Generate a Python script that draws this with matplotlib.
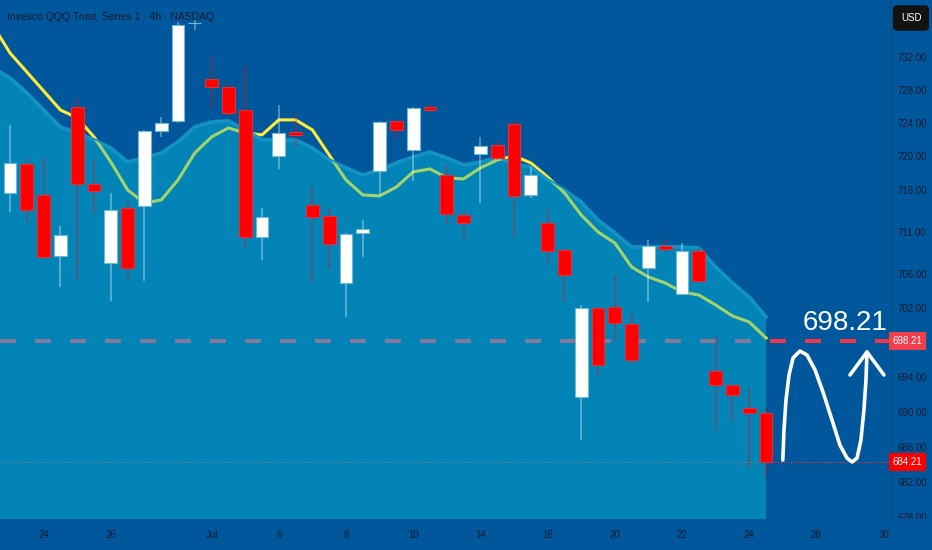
import numpy as np
import matplotlib
matplotlib.use("Agg")
import matplotlib.pyplot as plt
from matplotlib import transforms
from matplotlib.ticker import NullLocator

plt.rcParams["lines.scale_dashes"] = False
plt.rcParams["font.family"] = ["Liberation Sans", "DejaVu Sans"]

# 4h bars, Jun 23 .. Jul 24 (2 bars per session)
opens = [715.61, 719.08, 715.37, 708.13, 725.94, 716.68, 707.31, 713.82, 714.06, 723.04,
         724.25, 736.10, 729.33, 728.36, 725.57, 710.38, 720.03, 722.92, 714.18, 712.87,
         704.96, 710.86, 718.24, 724.25, 720.75, 725.94, 717.76, 712.99, 720.27, 721.35,
         723.89, 715.37, 712.04, 708.84, 691.70, 702.03, 702.14, 700.16, 706.72, 709.31,
         703.67, 708.72, 694.70, 693.08, 690.43, 689.86]
highs = [723.77, 719.91, 719.91, 711.69, 726.90, 719.67, 715.61, 714.65, 723.16, 724.73,
         736.29, 736.53, 732.00, 728.97, 730.91, 713.82, 726.18, 725.21, 716.44, 713.82,
         710.86, 712.40, 724.25, 724.37, 725.94, 726.42, 718.84, 713.58, 722.32, 721.84,
         724.37, 718.72, 713.70, 709.08, 702.38, 702.14, 705.90, 701.44, 710.03, 710.15,
         709.67, 709.08, 698.64, 693.08, 692.74, 690.55]
lows = [713.35, 712.16, 707.78, 704.49, 705.31, 713.11, 702.84, 705.31, 705.19, 722.32,
        724.01, 735.31, 725.70, 724.73, 709.08, 707.66, 718.48, 721.11, 704.96, 706.60,
        700.98, 708.02, 715.37, 722.08, 717.04, 725.33, 711.81, 710.15, 714.41, 719.55,
        710.38, 715.01, 707.19, 702.73, 686.76, 694.24, 698.18, 695.63, 702.73, 708.49,
        703.55, 705.08, 687.79, 688.82, 683.57, 682.47]
closes = [719.20, 713.58, 708.02, 710.62, 716.68, 715.85, 713.58, 706.72, 723.04, 724.01,
          735.92, 736.16, 728.36, 725.21, 710.38, 712.75, 722.80, 722.56, 712.75, 709.55,
          710.74, 711.34, 724.13, 723.16, 725.82, 725.57, 713.11, 712.04, 721.23, 719.79,
          715.25, 717.76, 708.72, 705.90, 702.03, 695.40, 700.28, 695.97, 709.31, 708.96,
          708.72, 705.19, 693.08, 691.93, 689.86, 684.21]

# moving average (yellow) and area band, from bar -1 to bar 45
ema_line = [735.79, 732.49, 730.18, 727.87, 725.57, 724.61, 722.32, 719.31, 715.97, 714.41,
            714.77, 717.16, 720.39, 722.32, 723.40, 722.80, 722.56, 724.37, 724.37, 723.16,
            720.15, 717.16, 715.37, 715.25, 716.32, 718.12, 718.48, 717.40, 717.28, 718.60,
            719.55, 720.03, 719.20, 717.52, 715.61, 712.99, 710.97, 709.67, 706.84, 705.66,
            704.96, 703.90, 703.55, 702.38, 701.10, 700.39, 698.53]
area_line = [730.66, 729.45, 727.63, 725.57, 723.52, 722.80, 721.96, 720.99, 719.31, 719.79,
             720.39, 721.71, 723.52, 724.13, 724.25, 723.16, 721.96, 721.96, 721.96, 720.99,
             719.55, 718.60, 717.76, 718.36, 719.20, 719.91, 720.51, 719.79, 718.96, 719.31,
             719.79, 719.08, 718.72, 717.16, 715.97, 714.53, 712.40, 710.86, 709.20, 709.20,
             709.20, 709.20, 709.08, 706.84, 704.96, 703.31, 700.98]

target_price = 698.21
last_price = 684.21

day_ticks = [2, 6, 12, 16, 20, 24, 28, 32, 36, 40, 44, 48, 52]
day_labels = ["24", "26", "Jul", "6", "8", "10", "14", "16", "20", "22", "24", "28", "30"]
price_ticks = [732, 728, 724, 720, 716, 711, 706, 702, 694, 690, 686, 682, 678]

# hand drawn "N" move, (bar, price)
draw_bar = [46.0, 46.07, 46.19, 46.37, 46.61, 47.02, 47.44, 47.92, 48.39, 48.93, 49.40,
            49.82, 50.12, 50.42, 50.65, 50.83, 50.95, 51.01]
draw_price = [684.47, 687.91, 691.35, 694.24, 696.21, 697.01, 696.55, 694.82, 692.28,
              689.05, 686.18, 684.70, 684.25, 684.70, 686.76, 690.20, 693.66, 696.90]
head_bar = [50.0, 51.01, 52.02]
head_price = [694.24, 696.90, 694.24]

BG = "#01579b"
AREA = "#0284b6"
TXT = "#0c1a2f"

W, H = 932, 550
fig = plt.figure(figsize=(W / 100, H / 100), dpi=100, facecolor=BG)
ax = fig.add_axes([0, 31 / H, 891 / W, 519 / H])
ax.set_facecolor(BG)

xb = np.arange(len(opens))
xl = np.arange(-1, len(opens))
o = np.array(opens)
c = np.array(closes)

ax.set_yscale("log")
ax.set_xlim(-0.595, 52.44)
ax.set_ylim(677.78, 738.98)

# things seen under the area
ax.plot(xl, ema_line, color="#ffeb3b", lw=2.2, zorder=2, solid_joinstyle="round")
ax.axhline(target_price, color="#f23645", lw=2.9, ls=(0, (11.5, 13.7)), zorder=2)
ax.axhline(last_price, color="#ff3030", lw=0.8, ls=(0, (1, 1.4)), zorder=2)

poly = ax.fill_between(xl, area_line, 600, color=AREA, lw=0, zorder=3)
clip = poly.get_paths()[0]
ax.plot(xl, area_line, color="#1293c4", lw=2.6, zorder=3.5, solid_joinstyle="round")

g, = ax.plot(xl, ema_line, color="#a3d46c", lw=2.2, zorder=4, solid_joinstyle="round")
g.set_clip_path(clip, ax.transData)
d1 = ax.axhline(target_price, color="#86789a", lw=2.9, ls=(0, (11.5, 13.7)), zorder=4)
d1.set_clip_path(clip, ax.transData)
d2 = ax.axhline(last_price, color="#86789a", lw=0.8, ls=(0, (1, 1.4)), zorder=4)
d2.set_clip_path(clip, ax.transData)

# candles
up = c >= o
wick_cols = [(1, 1, 1, 0.42) if u else (1, 0, 0, 0.42) for u in up]
ax.vlines(xb, lows, highs, colors=wick_cols, lw=1.1, zorder=5)
ax.bar(xb, np.abs(c - o), bottom=np.minimum(o, c), width=0.77,
       color=["#ffffff" if u else "#ff0000" for u in up],
       edgecolor=["#6fbad2" if u else "#d8333f" for u in up],
       linewidth=0.8, zorder=6)

# drawing
ax.plot(draw_bar, draw_price, color="white", lw=2.6, zorder=8,
        solid_capstyle="round", solid_joinstyle="round")
ax.plot(head_bar, head_price, color="white", lw=2.6, zorder=8,
        solid_capstyle="round", solid_joinstyle="round")
ax.annotate(f"{target_price:.2f}", xy=(49.7, target_price), xytext=(0, 7.5),
            textcoords="offset points", ha="center", va="baseline",
            fontsize=20, color="white", zorder=9)

# axes cosmetics
for s in ["top", "left", "bottom"]:
    ax.spines[s].set_visible(False)
ax.spines["right"].set_color("#0b4c86")
ax.spines["right"].set_linewidth(0.8)

ax.yaxis.tick_right()
ax.set_yticks(price_ticks)
ax.set_yticklabels([f"{p:.2f}" for p in price_ticks])
ax.yaxis.set_minor_locator(NullLocator())
ax.set_xticks(day_ticks)
ax.set_xticklabels(day_labels)
ax.tick_params(axis="y", length=0, pad=5, labelsize=7, labelcolor=TXT)
ax.tick_params(axis="x", length=0, pad=8, labelsize=7, labelcolor=TXT)
clip_box = transforms.TransformedBbox(
    transforms.Bbox([[0, 31 / H], [1, 1]]), fig.transFigure)
for lab in ax.get_yticklabels():
    lab.set_clip_box(clip_box)
    lab.set_clip_on(True)

# price badges
tr = transforms.blended_transform_factory(ax.transAxes, ax.transData)
ax.text(1 + 1.5 / 891, target_price, f"{target_price:.2f}", transform=tr, ha="left",
        va="center", color="white", fontsize=7, clip_on=False, zorder=10,
        bbox=dict(boxstyle="square,pad=0.4", fc="#ef3e4c", ec="none"))
ax.text(1 + 1.5 / 891, last_price, f"{last_price:.2f}", transform=tr, ha="left",
        va="center", color="white", fontsize=7, clip_on=False, zorder=10,
        bbox=dict(boxstyle="square,pad=0.4", fc="#ff0000", ec="none"))

ax.text(7 / 891, 1 - 17 / 519, "Invesco QQQ Trust, Series 1 · 4h · NASDAQ",
        transform=ax.transAxes, ha="left", va="center", fontsize=7.5, color=TXT,
        zorder=10)
fig.text(911 / W, 1 - 18 / H, "USD", ha="center", va="center", color="white",
         fontsize=7, bbox=dict(boxstyle="round,pad=0.8,rounding_size=0.45",
                               fc="#121212", ec="none"))

fig.savefig("out.png", dpi=100, facecolor=BG)
